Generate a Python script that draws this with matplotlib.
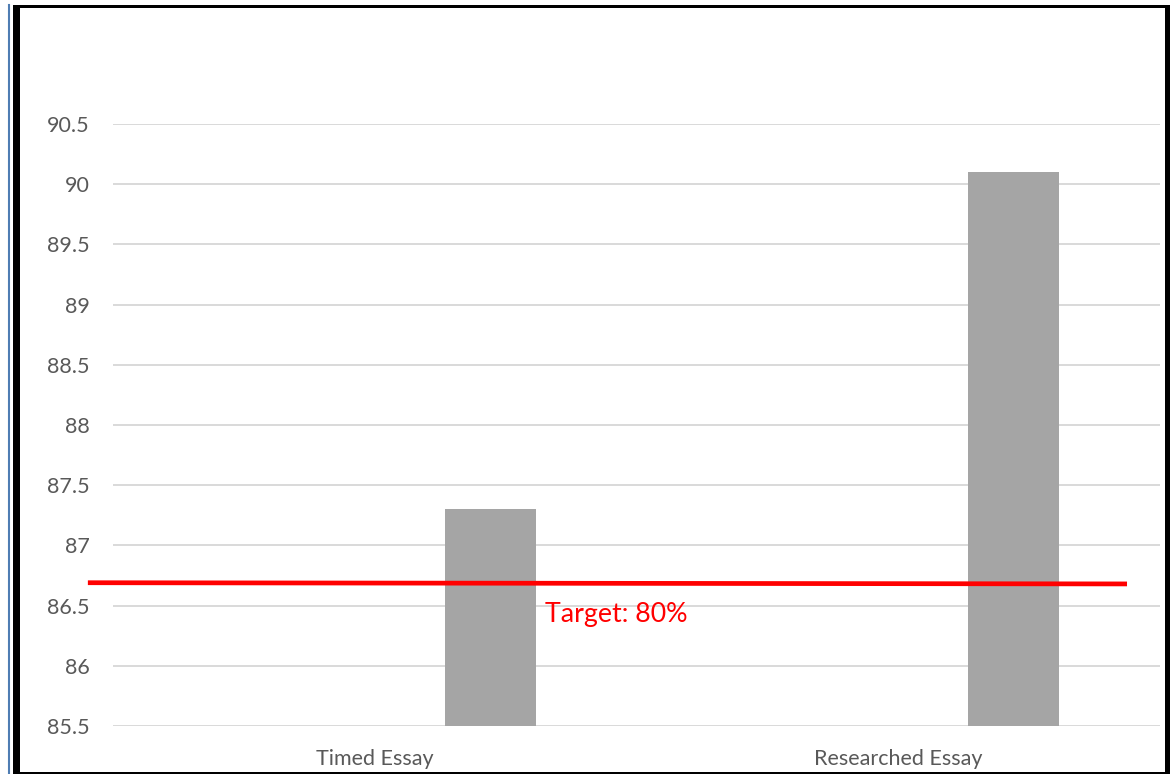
import matplotlib
matplotlib.use("Agg")
import matplotlib.pyplot as plt
from matplotlib.patches import Rectangle
from matplotlib.lines import Line2D

# Data
categories = ["Timed Essay", "Researched Essay"]
scores = [87.3, 90.1]
y_ticks = [85.5, 86, 86.5, 87, 87.5, 88, 88.5, 89, 89.5, 90, 90.5]
y_tick_labels = ["85.5", "86", "86.5", "87", "87.5", "88", "88.5", "89", "89.5", "90", "90.5"]
target_label = "Target: 80%"
target_line_y = [86.69, 86.68]

W, H = 1171, 774
fig = plt.figure(figsize=(W / 100, H / 100), dpi=100)
fig.patch.set_facecolor("white")

ax = fig.add_axes([113 / W, 1 - 726 / H, (1160 - 113) / W, (726 - 124) / H])

font = "Lato"
tick_color = "#595959"

# Bars sit to the right of each category centre
bar_offset = 0.221
bar_width = 0.174
xpos = [i + bar_offset for i in range(len(categories))]
ax.bar(xpos, [s - 85.5 for s in scores], bottom=85.5, width=bar_width,
       color="#A5A5A5", edgecolor="none", zorder=3)

ax.set_xlim(-0.5, len(categories) - 0.5)
ax.set_ylim(85.5, 90.5)

ax.set_yticks(y_ticks)
ax.set_yticklabels(y_tick_labels, fontfamily=font, fontsize=15.5, color=tick_color)
ax.set_xticks(range(len(categories)))
ax.set_xticklabels(categories, fontfamily=font, fontsize=15.5, color=tick_color)
ax.tick_params(axis="both", length=0)
ax.tick_params(axis="y", pad=17)
ax.tick_params(axis="x", pad=16.5)

ax.yaxis.grid(True, color="#D9D9D9", linewidth=1.4, zorder=0)
ax.set_axisbelow(True)
for s in ax.spines.values():
    s.set_visible(False)

# Target line spans slightly past the plot area on the left
ax.plot([-0.548, 1.437], target_line_y, color="#FF0000", linewidth=3.4,
        solid_capstyle="butt", clip_on=False, zorder=5)
ax.text(0.325, 86.43, target_label, color="#FF0000", fontfamily=font,
        fontsize=19.3, ha="left", va="center", zorder=6)

# Frame around the chart
fig.add_artist(Line2D([8.5 / W, 8.5 / W], [0, 1 - 5 / H], color="#4F7DB3",
                      linewidth=1.5, transform=fig.transFigure))
fig.add_artist(Rectangle((13 / W, 0), 7 / W, 1 - 5 / H, transform=fig.transFigure,
                         facecolor="black", edgecolor="none"))
fig.add_artist(Rectangle((13 / W, 1 - 8 / H), (1170 - 13) / W, 3 / H,
                         transform=fig.transFigure, facecolor="black", edgecolor="none"))
fig.add_artist(Rectangle((1165 / W, 0), 5 / W, 1 - 5 / H, transform=fig.transFigure,
                         facecolor="black", edgecolor="none"))
fig.add_artist(Rectangle((13 / W, 0), (1170 - 13) / W, 2 / H,
                         transform=fig.transFigure, facecolor="black", edgecolor="none"))

fig.savefig("out.png", dpi=100, facecolor="white")
